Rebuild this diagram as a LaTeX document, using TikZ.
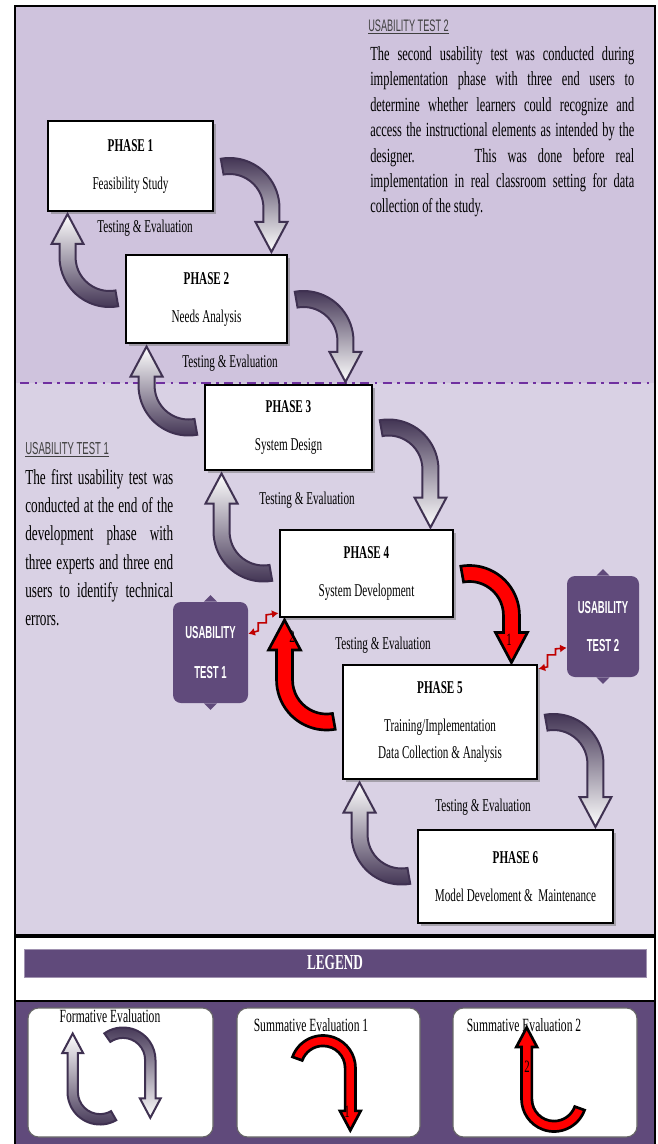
\documentclass[tikz,border=0pt]{standalone}
\usepackage{fontspec}
\setmainfont{Liberation Serif}[FakeStretch=0.62]
\newfontfamily\labelsans{Liberation Sans}[FakeStretch=0.55]
\usetikzlibrary{shadows,arrows.meta}

\definecolor{lavtop}{RGB}{207,195,221}
\definecolor{lavlow}{RGB}{217,209,228}
\definecolor{plum}{RGB}{96,74,123}
\definecolor{plumdark}{RGB}{63,49,81}
\definecolor{dashpurple}{RGB}{112,48,160}
\definecolor{boltred}{RGB}{192,0,0}
\definecolor{headgray}{RGB}{64,64,64}

% curved block arrows: centre, scale, start angle, straight part, style
\newcommand{\cwright}[5]{%
  \begin{scope}[shift={#1}, scale=#2]
    \path[#5] (#3:50) arc[start angle=#3, end angle=0, radius=50]
      -- (50,-#4) -- (58,-#4) -- (42,-#4-30) -- (26,-#4) -- (34,-#4)
      -- (34,0) arc[start angle=0, end angle=#3, radius=34] -- cycle;
  \end{scope}}
\newcommand{\cwleft}[5]{%
  \begin{scope}[shift={#1}, scale=#2]
    \path[#5] (#3:50) arc[start angle=#3, end angle=180, radius=50]
      -- (-50,#4) -- (-58,#4) -- (-42,#4+30) -- (-26,#4) -- (-34,#4)
      -- (-34,0) arc[start angle=180, end angle=#3, radius=34] -- cycle;
  \end{scope}}
\newcommand{\jline}[2]{\makebox[#1][s]{#2}}

\begin{document}
\begin{tikzpicture}[
		x=0.75pt, y=0.75pt,
		phasebox/.style={draw, line width=2.2pt, fill=white, align=center, inner sep=0pt,
			drop shadow={shadow xshift=2.5pt, shadow yshift=-2.5pt, fill=black!55},
			font=\fontsize{13.5}{16}\selectfont},
		testeval/.style={font=\fontsize{13.5}{16}\selectfont},
		formative down/.style={top color=plumdark, bottom color=white, draw=plumdark, line width=1.5pt},
		formative up/.style={top color=white, bottom color=plumdark, draw=plumdark, line width=1.5pt},
		summative/.style={fill=red, draw=black, line width=2pt},
		usabox/.style={fill=plum, rounded corners=6pt, text=white, align=center, inner sep=0pt,
			font=\labelsans\bfseries\fontsize{13}{15}\selectfont},
		usahead/.style={text=headgray, inner sep=0pt, anchor=west},
		paratext/.style={inner sep=0pt, anchor=north west, align=left},
		bolt/.style={draw=boltred, line width=1.2pt, {Latex[length=5pt,width=6pt]}-{Latex[length=5pt,width=6pt]}},
		legendbox/.style={fill=white, draw=black!60, line width=0.8pt, rounded corners=8pt,
			minimum height=96.75pt, inner sep=0pt},
		legendtitle/.style={font=\fontsize{14}{16}\selectfont, inner sep=0pt},
		arrownum/.style={font=\fontsize{13}{15}\selectfont, inner sep=0pt}
		]
		\useasboundingbox (0,0) rectangle (657,-1144);
		
		\fill[lavtop] (15,-6) rectangle (655,-383);
		\fill[lavlow] (15,-383) rectangle (655,-935);
		\draw[line width=1.5pt] (15,-6) rectangle (655,-935);
		\draw[dashpurple, line width=1.6pt, dash pattern=on 7pt off 4pt on 2pt off 4pt] (20,-383) -- (650,-383);
		
		\node[usahead, font=\labelsans\fontsize{12.5}{14}\selectfont] (ut2head) at (368,-27) {\underline{USABILITY TEST 2}};
		\node[paratext, font=\fontsize{15}{19.1}\selectfont] (ut2text) at (370,-46) {%
			\jline{198pt}{The second usability test was conducted during}\\
			\jline{198pt}{implementation phase with three end users to}\\
			\jline{198pt}{determine whether learners could recognize and}\\
			\jline{198pt}{access the instructional elements as intended by the}\\
			\jline{198pt}{designer.\hspace{3em}This was done before real}\\
			\jline{198pt}{implementation in real classroom setting for data}\\
			collection of the study.};
		\node[usahead, font=\labelsans\fontsize{13}{15}\selectfont] (ut1head) at (25,-450) {\underline{USABILITY TEST 1}};
		\node[paratext, font=\fontsize{16}{21.2}\selectfont] (ut1text) at (25,-469) {%
			\jline{111pt}{The first usability test was}\\
			\jline{111pt}{conducted at the end of the}\\
			\jline{111pt}{development phase with}\\
			\jline{111pt}{three experts and three end}\\
			\jline{111pt}{users to identify technical}\\
			errors.};
		
		\node[phasebox, minimum width=123.75pt, minimum height=67.5pt] (p1) at (130.5,-166)
			{\textbf{PHASE 1}\\[12.5pt]Feasibility Study};
		\node[phasebox, minimum width=120.75pt, minimum height=66pt] (p2) at (206.5,-299)
			{\textbf{PHASE 2}\\[12.5pt]Needs Analysis};
		\node[phasebox, minimum width=125.25pt, minimum height=63.75pt] (p3) at (288.5,-427.5)
			{\textbf{PHASE 3}\\[12.5pt]System Design};
		\node[phasebox, minimum width=129.75pt, minimum height=65.25pt] (p4) at (366.5,-573.5)
			{\textbf{PHASE 4}\\[12.5pt]System Development};
		\node[phasebox, minimum width=145.5pt, minimum height=85.5pt] (p5) at (440,-722)
			{\textbf{PHASE 5}\\[12.5pt]Training/Implementation\\[4pt]Data Collection \& Analysis};
		\node[phasebox, minimum width=146.25pt, minimum height=69.75pt] (p6) at (515.5,-876.5)
			{\textbf{PHASE 6}\\[12.5pt]Model Develoment \& \ Maintenance};
		
		\node[testeval] (te1) at (145,-228) {Testing \& Evaluation};
		\node[testeval] (te2) at (230,-363) {Testing \& Evaluation};
		\node[testeval] (te3) at (307,-500) {Testing \& Evaluation};
		\node[testeval] (te4) at (383,-645) {Testing \& Evaluation};
		\node[testeval] (te5) at (483,-807) {Testing \& Evaluation};
		
		\cwright{([shift={(15,-42)}]p1.east)}{1}{100}{14}{formative down}
		\cwleft{([shift={(-15,42)}]p2.west)}{1}{280}{13}{formative up}
		\cwright{([shift={(15,-42)}]p2.east)}{1}{100}{11}{formative down}
		\cwleft{([shift={(-15,42)}]p3.west)}{1}{280}{9}{formative up}
		\cwright{([shift={(15,-42)}]p3.east)}{1}{100}{28}{formative down}
		\cwleft{([shift={(-15,42)}]p4.west)}{1}{280}{28}{formative up}
		\cwright{([shift={(15,-42)}]p4.east)}{1}{100}{17}{summative}
		\cwleft{([shift={(-15,42)}]p5.west)}{1}{280}{30}{summative}
		\cwright{([shift={(15,-42)}]p5.east)}{1}{100}{33}{formative down}
		\cwleft{([shift={(-15,42)}]p6.west)}{1}{280}{22}{formative up}
		\node[arrownum] (num1) at (509,-640) {1};
		\node[arrownum] (num2) at (292,-637) {2};
		
		\node[usabox, minimum width=56.25pt, minimum height=75.75pt] (ut1) at (210.5,-652.5) {USABILITY\\[15pt]TEST 1};
		\fill[plum] ([xshift=-5pt]ut1.north) -- ([yshift=5pt]ut1.north) -- ([xshift=5pt]ut1.north) -- cycle;
		\fill[plum] ([xshift=-5pt]ut1.south) -- ([yshift=-5pt]ut1.south) -- ([xshift=5pt]ut1.south) -- cycle;
		\node[usabox, minimum width=54pt, minimum height=75.75pt] (ut2) at (603,-626.5) {USABILITY\\[13.5pt]TEST 2};
		\fill[plum] ([xshift=-5pt]ut2.north) -- ([yshift=5pt]ut2.north) -- ([xshift=5pt]ut2.north) -- cycle;
		\fill[plum] ([xshift=-5pt]ut2.south) -- ([yshift=-5pt]ut2.south) -- ([xshift=5pt]ut2.south) -- cycle;
		
		\draw[bolt] ([yshift=14pt]ut1.east) -- ++(10,3) -- ++(0,8) -- ++(8,0) -- ++(0,8) -- ([yshift=4pt]p4.south west);
		\draw[bolt] ([yshift=-4pt]p5.north east) -- ++(9,2) -- ++(0,12) -- ++(8,0) -- ++(0,6) -- ([yshift=-16pt]ut2.west);
		
		\fill[white] (15,-937) rectangle (655,-1001);
		\draw[line width=1.5pt] (15,-937) rectangle (655,-1001);
		\node[fill=plum, draw=plum!60!white, minimum width=466.5pt, minimum height=21pt, inner sep=0pt,
			text=white, font=\fontsize{16}{18}\selectfont\bfseries] (legend) at (335,-963) {LEGEND};
		\fill[plum] (15,-1002) rectangle (655,-1144);
		\draw[line width=1.5pt] (15,-1002) -- (15,-1144) (655,-1002) -- (655,-1144);
		
		\node[legendbox, minimum width=138.75pt] (lg1) at (120.5,-1072.5) {};
		\node[legendbox, minimum width=137.25pt] (lg2) at (328.5,-1072.5) {};
		\node[legendbox, minimum width=138pt] (lg3) at (545,-1072.5) {};
		\node[legendtitle] (lgt1) at (110,-1016) {Formative Evaluation};
		\node[legendtitle] (lgt2) at (311,-1025) {Summative Evaluation 1};
		\node[legendtitle] (lgt3) at (524,-1025) {Summative Evaluation 2};
		\cwleft{(100,-1092)}{0.65}{300}{60}{formative up}
		\cwright{(123,-1060)}{0.65}{125}{59}{formative down}
		\cwright{(323,-1068)}{0.65}{160}{66}{summative}
		\cwleft{(554,-1099)}{0.65}{340}{80}{summative}
		\node[arrownum] (lgnum1) at (347,-1112) {1};
		\node[arrownum] (lgnum2) at (527,-1067) {2};
		\end{tikzpicture}
\end{document}
